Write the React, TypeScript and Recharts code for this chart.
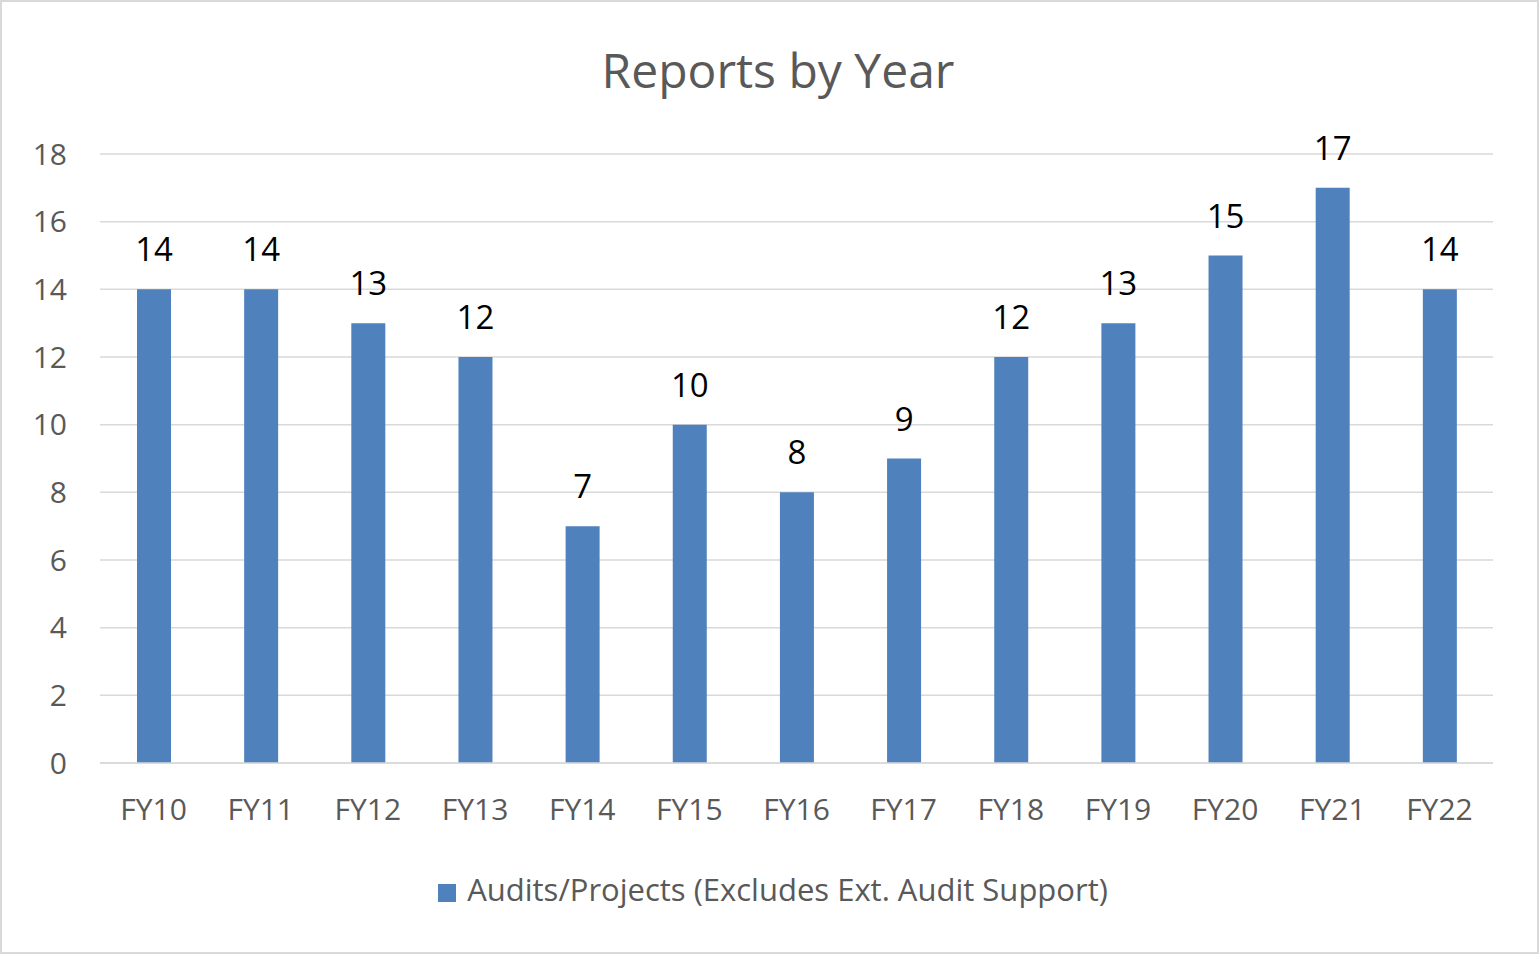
import React from "react";
import { BarChart, Bar, XAxis, YAxis, CartesianGrid, LabelList, Legend } from "recharts";

const categories = ["FY10", "FY11", "FY12", "FY13", "FY14", "FY15", "FY16", "FY17", "FY18", "FY19", "FY20", "FY21", "FY22"];
const reports = [14, 14, 13, 12, 7, 10, 8, 9, 12, 13, 15, 17, 14];
const yTicks = [0, 2, 4, 6, 8, 10, 12, 14, 16, 18];
const seriesName = "Audits/Projects (Excludes Ext. Audit Support)";

const data = categories.map((c, i) => ({ name: c, value: reports[i] }));

const FONT = "'Open Sans', sans-serif";

export default function App() {
  return (
    <div style={{ position: "absolute", left: 0, top: 0, width: 1539, height: 954, background: "#fff", fontFamily: FONT }}>
      <div style={{ position: "absolute", left: 0, top: 0, width: 1535, height: 950, border: "2px solid #d9d9d9" }} />
      <div style={{ position: "absolute", left: 0, top: 37, width: 1556, textAlign: "center", fontSize: 48, color: "#595959", lineHeight: "66px" }}>
        Reports by Year
      </div>
      <div style={{ position: "absolute", left: 0, top: 0 }}>
        <BarChart width={1539} height={954} data={data} margin={{ top: 154, right: 46, bottom: 0, left: 0 }} barCategoryGap={0}>
          <CartesianGrid vertical={false} stroke="#d9d9d9" strokeWidth={1.5} />
          <XAxis
            dataKey="name"
            height={191}
            axisLine={{ stroke: "#d9d9d9", strokeWidth: 1.5 }}
            tickLine={false}
            tickSize={0}
            tickMargin={36}
            tick={{ fill: "#595959", fontSize: 30, fontFamily: FONT }}
            interval={0}
          />
          <YAxis
            width={100}
            domain={[0, 18]}
            ticks={yTicks}
            axisLine={false}
            tickLine={false}
            tickSize={0}
            tickMargin={33}
            tick={{ fill: "#595959", fontSize: 30, fontFamily: FONT }}
          />
          <Legend
            layout="horizontal"
            verticalAlign="middle"
            align="center"
            iconType="square"
            iconSize={18}
            wrapperStyle={{ top: 868, left: 0, width: 1556, fontSize: 31, fontFamily: FONT }}
            formatter={(v: string) => <span style={{ color: "#595959", marginLeft: 7 }}>{v}</span>}
          />
          <Bar dataKey="value" name={seriesName} fill="#4f81bd" barSize={34} isAnimationActive={false}>
            <LabelList dataKey="value" position="top" offset={28} fill="#000" fontSize={33} fontFamily={FONT} />
          </Bar>
        </BarChart>
      </div>
    </div>
  );
}
